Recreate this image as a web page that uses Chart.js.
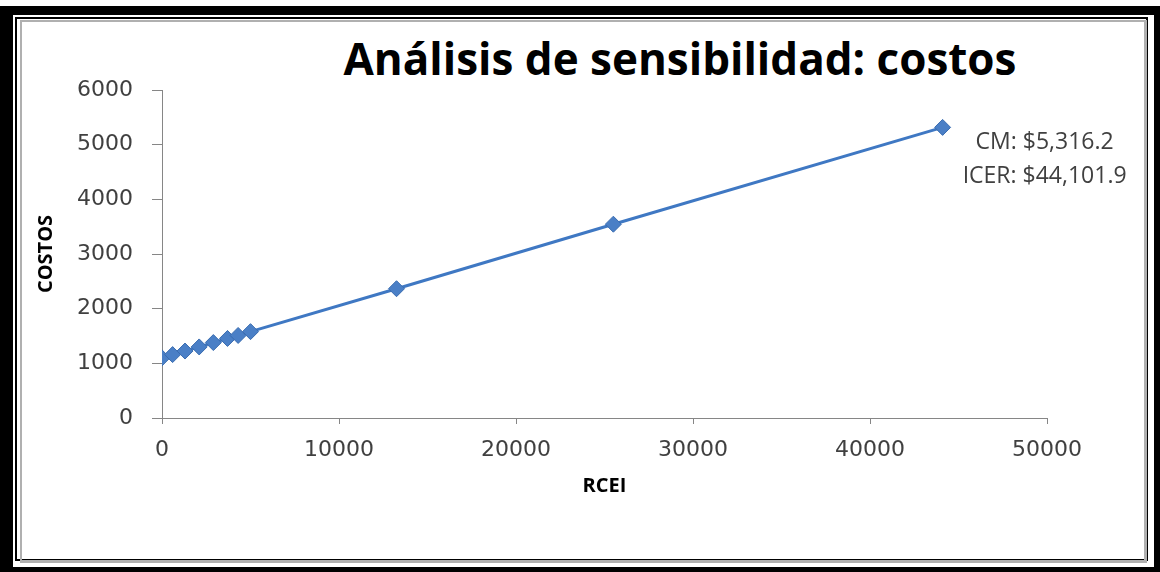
<!DOCTYPE html>
<html>
<head>
<meta charset="utf-8">
<script src="https://cdn.jsdelivr.net/npm/chart.js@4/dist/chart.umd.min.js"></script>
<style>
  body { margin: 0; background: #fff; }
  #page { position: relative; width: 1160px; height: 572px; overflow: hidden; }
  #outer { position: absolute; left: 0; top: 6px; width: 1160px; height: 566px; background: #000; }
  #mid { position: absolute; left: 13px; top: 15px; width: 1141px; height: 552px; background: #fff; }
  #line { position: absolute; left: 15px; top: 17px; width: 1133px; height: 544px; border: 2px solid #000; box-sizing: border-box; }
  #inner { position: absolute; left: 20px; top: 20px; width: 1127px; height: 543px; border: 3px solid #b0b0b0; border-top-width: 2px; border-left-width: 2px; box-sizing: border-box; }
  #title { position: absolute; left: 680px; top: 36px; transform: translateX(-50%); white-space: nowrap;
           font: bold 44px/44px "Open Sans", sans-serif; color: #000; }
  #chart { position: absolute; left: 0; top: 0; }
</style>
</head>
<body>
<div id="page">
  <div id="outer"></div>
  <div id="mid"></div>
  <div id="line"></div>
  <div id="inner"></div>
  <div id="title">Análisis de sensibilidad: costos</div>
  <canvas id="chart" width="1160" height="572"></canvas>
</div>
<script>
// values
const rceiValues = [0, 600, 1300, 2100, 2900, 3700, 4300, 5000, 13250, 25500, 44101.9];
const costValues = [1100, 1160, 1225, 1300, 1380, 1455, 1510, 1580, 2365, 3545, 5316.2];
const xTicks = [0, 10000, 20000, 30000, 40000, 50000];
const yTicks = [0, 1000, 2000, 3000, 4000, 5000, 6000];
const lastLabel = ['CM: $5,316.2', 'ICER: $44,101.9'];

const points = rceiValues.map((x, i) => ({ x, y: costValues[i] }));

const axisColor = '#868686';
const tickFont = { family: '"DejaVu Sans"', size: 22 };
const titleFont = { family: '"Open Sans"', size: 20, weight: 'bold' };

// label next to the last point
const lastPointLabel = {
  id: 'lastPointLabel',
  afterDatasetsDraw(chart) {
    const meta = chart.getDatasetMeta(0);
    const pt = meta.data[meta.data.length - 1];
    const ctx = chart.ctx;
    ctx.save();
    ctx.font = '23px "Open Sans"';
    ctx.fillStyle = '#404040';
    ctx.textAlign = 'center';
    ctx.textBaseline = 'middle';
    lastLabel.forEach((txt, i) => {
      ctx.fillText(txt, pt.x + 102, pt.y + 15 + i * 34);
    });
    ctx.restore();
  }
};

new Chart(document.getElementById('chart'), {
  type: 'scatter',
  data: {
    datasets: [{
      data: points,
      showLine: true,
      borderColor: '#3f78c3',
      borderWidth: 3,
      pointStyle: 'rectRot',
      pointRadius: 8,
      pointBackgroundColor: '#4a7fc6',
      pointBorderColor: '#3a6cb0',
      pointBorderWidth: 1
    }]
  },
  options: {
    responsive: false,
    animation: false,
    layout: { padding: { left: 34, top: 90, right: 113, bottom: 74 } },
    plugins: { legend: { display: false }, tooltip: { enabled: false } },
    scales: {
      x: {
        type: 'linear',
        min: xTicks[0],
        max: xTicks[xTicks.length - 1],
        afterBuildTicks: (s) => { s.ticks = xTicks.map(v => ({ value: v })); },
        afterFit: (s) => { s.height = 80; },
        grid: { drawOnChartArea: false, color: axisColor, tickLength: 6 },
        border: { color: axisColor },
        ticks: { font: tickFont, color: '#404040', padding: 13, maxRotation: 0, callback: (v) => String(v) },
        title: { display: true, text: 'RCEI', font: titleFont, color: '#000', padding: 0 }
      },
      y: {
        min: yTicks[0],
        max: yTicks[yTicks.length - 1],
        afterBuildTicks: (s) => { s.ticks = yTicks.map(v => ({ value: v })); },
        afterFit: (s) => { s.width = 128; },
        grid: { drawOnChartArea: false, color: axisColor, tickLength: 10 },
        border: { color: axisColor },
        ticks: { font: tickFont, color: '#404040', padding: 19, callback: (v) => String(v) },
        title: { display: true, text: 'COSTOS', font: titleFont, color: '#000', padding: 0 }
      }
    }
  },
  plugins: [lastPointLabel]
});
</script>
</body>
</html>
